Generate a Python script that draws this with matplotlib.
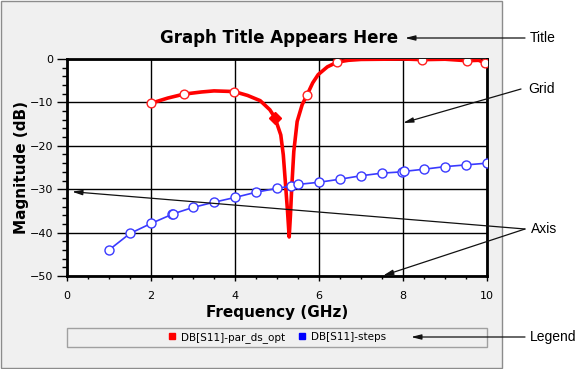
import numpy as np
import matplotlib
matplotlib.use('Agg')
import matplotlib.pyplot as plt
from matplotlib.patches import Rectangle
from matplotlib.lines import Line2D
from matplotlib.ticker import MultipleLocator

# ---- data ----
# DB[S11]-par_ds_opt : curve trace
red_freq = [2.0, 2.4, 2.78, 3.2, 3.5, 3.98, 4.3, 4.6, 4.83, 4.95, 5.09, 5.15,
            5.21, 5.25, 5.29, 5.32, 5.35, 5.40, 5.48, 5.6, 5.71, 5.85, 5.98,
            6.2, 6.44, 6.7, 7.0, 8.0, 8.46, 9.0, 9.53, 9.8, 9.95, 10.0]
red_db = [-10.2, -9.0, -8.1, -7.6, -7.35, -7.5, -8.4, -9.6, -11.7, -13.5, -17.5, -22.1,
          -29.8, -35.0, -41.0, -36.0, -29.8, -21.3, -14.4, -10.5, -8.4, -5.5, -3.6,
          -1.8, -0.7, -0.3, -0.1, 0.0, -0.15, -0.05, -0.4, -0.3, -0.9, -1.2]
# marker points on the red trace
red_mark_freq = [2.0, 2.78, 3.98, 5.71, 6.44, 8.46, 9.53, 9.95]
red_mark_db = [-10.2, -8.1, -7.5, -8.4, -0.7, -0.15, -0.4, -0.9]
red_diamond_freq = [4.95]
red_diamond_db = [-13.5]

# DB[S11]-steps
blue_freq = [1.0, 1.5, 2.0, 2.5, 2.52, 3.0, 3.5, 4.0, 4.5, 5.0, 5.33, 5.5,
             6.0, 6.5, 7.0, 7.5, 7.98, 8.02, 8.5, 9.0, 9.5, 10.0]
blue_db = [-44.0, -40.2, -37.9, -35.8, -35.7, -34.2, -33.0, -31.9, -30.7, -29.8, -29.3, -28.9,
           -28.4, -27.7, -26.9, -26.3, -26.0, -25.9, -25.4, -24.8, -24.4, -24.0]

legend_labels = ['DB[S11]-par_ds_opt', 'DB[S11]-steps']
notes = ['Title', 'Grid', 'Axis', 'Legend']

W, H = 584, 369
fig = plt.figure(figsize=(W / 100, H / 100), dpi=100, facecolor='white')

# grey panel behind the graph
fig.patches.append(Rectangle((1 / W, 1 / H), 501 / W, 367 / H, transform=fig.transFigure,
                             facecolor='#f0f0f0', edgecolor='#8c8c8c', lw=1, zorder=-10))

ax = fig.add_axes([67 / W, (H - 276) / H, 420 / W, 217 / H])
ax.set_facecolor('white')

ax.plot(red_freq, red_db, color='#ff0000', lw=2.6, solid_joinstyle='round', zorder=3)
ax.plot(red_mark_freq, red_mark_db, linestyle='none', marker='o', ms=6.3,
        mfc='white', mec='#ff2020', mew=1.0, zorder=4)
ax.plot(red_diamond_freq, red_diamond_db, linestyle='none', marker='D', ms=6.5,
        color='#ff0000', zorder=4)
ax.plot(blue_freq, blue_db, color='#3a3aff', lw=1.2, marker='o', ms=6.5,
        mfc='white', mec='#3a3aff', mew=1.0, zorder=5)

ax.set_xlim(0, 10)
ax.set_ylim(-50, 0)
ax.xaxis.set_major_locator(MultipleLocator(2))
ax.xaxis.set_minor_locator(MultipleLocator(0.5))
ax.yaxis.set_major_locator(MultipleLocator(10))
ax.yaxis.set_minor_locator(MultipleLocator(2))
ax.grid(True, which='major', color='black', lw=1)
ax.set_axisbelow(True)
for s in ax.spines.values():
    s.set_linewidth(2)
ax.tick_params(axis='y', which='major', direction='out', length=7, width=1, pad=3, labelsize=8)
ax.tick_params(axis='y', which='minor', direction='out', length=3.6, width=1)
ax.tick_params(axis='x', which='major', direction='out', length=3.6, width=1, pad=7, labelsize=8)
ax.tick_params(axis='x', which='minor', direction='out', length=2.5, width=1)

ax.set_xlabel('Frequency (GHz)', fontsize=11, fontweight='bold', labelpad=3)
ax.set_ylabel('Magnitude (dB)', fontsize=11, fontweight='bold', labelpad=0.5)
fig.text(279.5 / W, (H - 38) / H, 'Graph Title Appears Here', fontsize=12,
         fontweight='bold', ha='center', va='center')

# legend bar under the plot
fig.patches.append(Rectangle((67 / W, (H - 346.5) / H), 420 / W, 19 / H, transform=fig.transFigure,
                             facecolor='#f0f0f0', edgecolor='#a0a0a0', lw=1, zorder=-5))
handles = [Line2D([], [], linestyle='none', marker='s', ms=5, color='#ff0000'),
           Line2D([], [], linestyle='none', marker='s', ms=5, color='#0000ff')]
fig.legend(handles, legend_labels, loc='center', bbox_to_anchor=(277 / W, (H - 337.5) / H),
           ncol=2, frameon=False, fontsize=7.5, handlelength=0.8, handletextpad=0.5,
           columnspacing=1.2, borderpad=0)

# call-out notes on the right
arrow = dict(arrowstyle='-|>,head_length=0.6,head_width=0.15', color='#111111', lw=0.9,
             shrinkA=0, shrinkB=0)
note_pos = [(530, 38), (528, 89), (531, 229), (530, 337)]
arrow_lines = [((525, 38), (405, 38)),
               ((521, 89), (403, 123)),
               ((525, 229), (72, 191.7)),
               ((525, 229), (383, 275.7)),
               ((525, 337), (411, 337))]
for txt, (x, y) in zip(notes, note_pos):
    fig.text(x / W, (H - y) / H, txt, fontsize=10, family='Liberation Sans',
             ha='left', va='center')
for (x0, y0), (x1, y1) in arrow_lines:
    ax.annotate('', xy=(x1, H - y1), xytext=(x0, H - y0), xycoords='figure pixels',
                textcoords='figure pixels', arrowprops=arrow, annotation_clip=False, zorder=10)

fig.savefig('out.png', dpi=100)
